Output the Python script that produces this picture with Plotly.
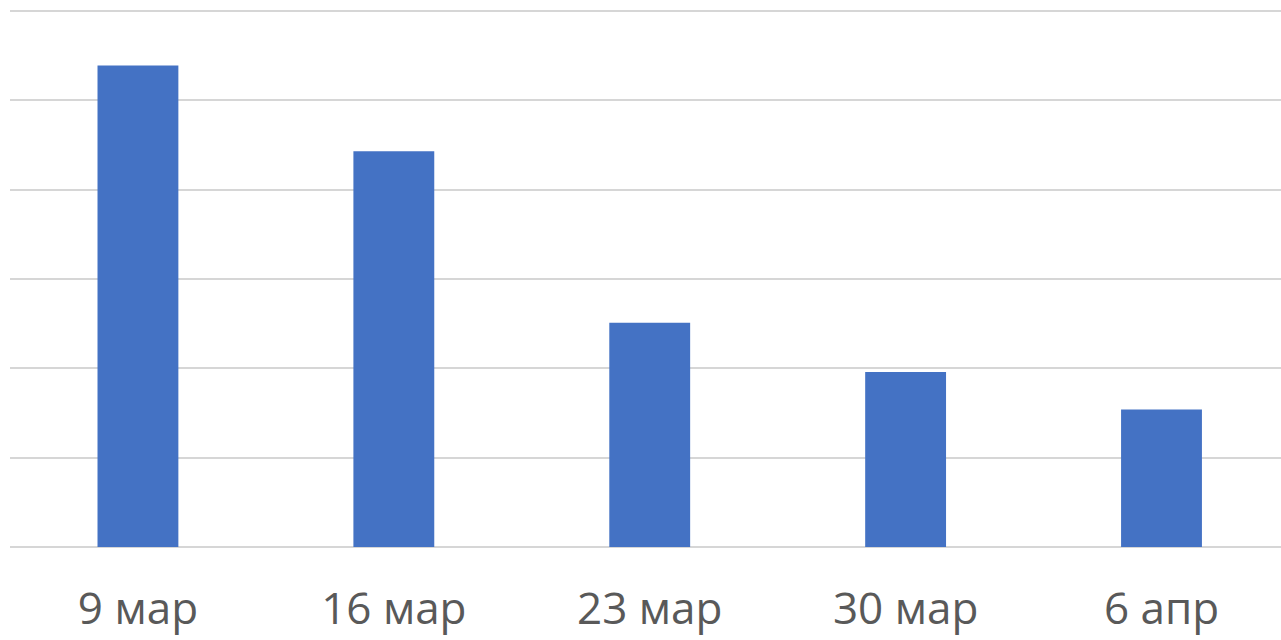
import plotly.graph_objects as go

categories = ["9 мар", "16 мар", "23 мар", "30 мар", "6 апр"]
values = [5.39, 4.43, 2.51, 1.96, 1.54]

fig = go.Figure(go.Bar(
    x=categories, y=values,
    marker=dict(color="#4472C4", line=dict(width=0)),
    width=0.316,
))

fig.update_layout(
    width=1281, height=640,
    margin=dict(l=10, r=0, t=2, b=93),
    paper_bgcolor="white", plot_bgcolor="white",
    showlegend=False,
    font=dict(family="Open Sans", size=44, color="#595959"),
)
fig.update_xaxes(
    range=[-0.5, 4.467], showgrid=False, showline=False, zeroline=False,
    ticks="", ticklabelstandoff=32,
)
fig.update_yaxes(
    range=[0, 6.1], dtick=1, showticklabels=False, showgrid=True,
    gridcolor="#d6d6d6", gridwidth=2,
    zeroline=True, zerolinecolor="#d6d6d6", zerolinewidth=2, showline=False,
)

fig.write_html("out.html", config={"displayModeBar": False},
               post_script="document.body.style.margin='0';")
